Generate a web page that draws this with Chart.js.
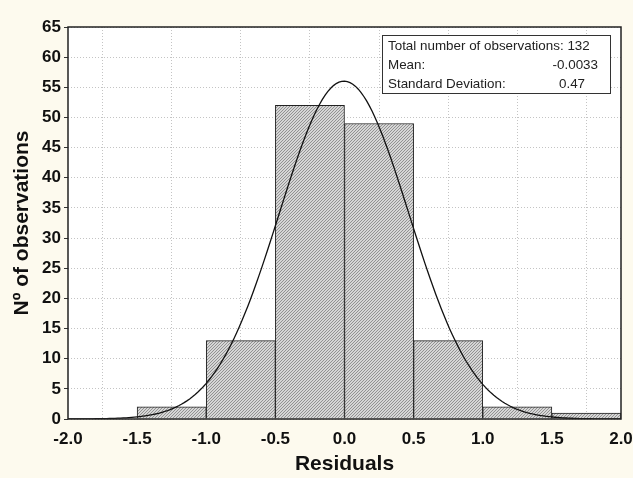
<!DOCTYPE html>
<html>
<head>
<meta charset="utf-8">
<script src="https://cdn.jsdelivr.net/npm/chart.js@4/dist/chart.umd.min.js"></script>
<style>
  html, body { margin: 0; padding: 0; background: #fdfaee; }
  #wrap { width: 633px; height: 478px; }
</style>
</head>
<body>
<div id="wrap"><canvas id="c" width="633" height="478"></canvas></div>
<script>
/* histogram of residuals + fitted normal curve */

const binStarts = [-2.0, -1.5, -1.0, -0.5, 0.0, 0.5, 1.0, 1.5];
const binWidth = 0.5;
const counts = [0, 2, 13, 52, 49, 13, 2, 1];

const totalObs = 132;
const meanVal = -0.0033;
const stdDev = 0.47;
const statLines = [
  ['Total number of observations: 132', ''],
  ['Mean:', '-0.0033'],
  ['Standard Deviation:', '0.47']
];

const yTicks = [0, 5, 10, 15, 20, 25, 30, 35, 40, 45, 50, 55, 60, 65];

// fitted normal curve, from the stats shown in the box
const curveX = [];
for (let i = 0; i <= 200; i++) curveX.push(-2 + i * 0.02);
const normalFit = curveX.map(x => ({
  x: x,
  y: totalObs * binWidth * Math.exp(-0.5 * Math.pow((x - meanVal) / stdDev, 2)) / (stdDev * Math.sqrt(2 * Math.PI))
}));

function hatch() {
  const p = document.createElement('canvas');
  p.width = 3; p.height = 3;
  const g = p.getContext('2d');
  g.fillStyle = '#d6d6d6';
  g.fillRect(0, 0, 3, 3);
  g.fillStyle = '#929292';
  // one-pixel diagonal "/"
  g.fillRect(2, 0, 1, 1);
  g.fillRect(1, 1, 1, 1);
  g.fillRect(0, 2, 1, 1);
  return g.createPattern(p, 'repeat');
}

const FONT = 'Liberation Sans, Arial, sans-serif';

const framePlugin = {
  id: 'frame',
  beforeDraw(chart) {
    const { ctx, chartArea: a } = chart;
    ctx.save();
    ctx.fillStyle = '#fdfaee';
    ctx.fillRect(0, 0, chart.width, chart.height);
    ctx.fillStyle = '#ffffff';
    ctx.fillRect(a.left, a.top, a.right - a.left, a.bottom - a.top);
    ctx.restore();
  },
  afterDraw(chart) {
    const { ctx, chartArea: a } = chart;
    ctx.save();
    ctx.strokeStyle = '#222';
    ctx.lineWidth = 1.5;
    ctx.strokeRect(a.left, a.top, a.right - a.left, a.bottom - a.top);

    // stats box
    ctx.fillStyle = '#ffffff';
    ctx.fillRect(382, 35, 228, 58);
    ctx.lineWidth = 1;
    ctx.strokeStyle = '#333';
    ctx.strokeRect(382.5, 35.5, 228, 58);
    ctx.fillStyle = '#222';
    ctx.font = '13.4px ' + FONT;
    ctx.textBaseline = 'middle';
    const ys = [46, 65, 84];
    statLines.forEach((s, i) => {
      ctx.textAlign = 'left';
      ctx.fillText(s[0], 388, ys[i]);
      if (s[1]) {
        if (i === 1) { ctx.textAlign = 'right'; ctx.fillText(s[1], 598, ys[i]); }
        else { ctx.textAlign = 'left'; ctx.fillText(s[1], 559, ys[i]); }
      }
    });
    ctx.restore();
  }
};

new Chart(document.getElementById('c'), {
  type: 'bar',
  data: {
    datasets: [
      {
        type: 'line',
        data: normalFit,
        borderColor: '#111',
        borderWidth: 1.3,
        pointRadius: 0,
        tension: 0,
        order: 0
      },
      {
        data: binStarts.map((b, i) => ({ x: b + binWidth / 2, y: counts[i] })),
        backgroundColor: hatch(),
        borderColor: '#222',
        borderWidth: 1,
        barPercentage: 1,
        categoryPercentage: 1,
        order: 1
      }
    ]
  },
  options: {
    responsive: false,
    animation: false,
    layout: { padding: { top: 27, right: 12, left: 0, bottom: 0 } },
    plugins: { legend: { display: false }, tooltip: { enabled: false } },
    scales: {
      x: {
        type: 'linear',
        min: -2, max: 2,
        offset: false,
        afterFit: s => { s.height = 59; s.paddingLeft = 0; s.paddingRight = 0; },
        ticks: {
          stepSize: 0.5,
          padding: 10,
          color: '#111',
          font: { family: FONT, size: 17, weight: 'bold' },
          callback: v => v.toFixed(1)
        },
        grid: { color: '#c4c4c4', tickLength: 0, drawTicks: false },
        border: { display: false, dash: [1, 2] },
        title: {
          display: true, text: 'Residuals', color: '#111',
          font: { family: FONT, size: 21, weight: 'bold' },
          padding: { top: 0, bottom: 1 }
        }
      },
      y: {
        min: 0, max: 65,
        afterFit: s => { s.width = 68; s.paddingTop = 0; s.paddingBottom = 0; },
        afterBuildTicks: s => { s.ticks = yTicks.map(v => ({ value: v })); },
        ticks: {
          padding: 3,
          color: '#111',
          font: { family: FONT, size: 17, weight: 'bold' }
        },
        grid: { color: '#c4c4c4', tickLength: 4, tickColor: '#333' },
        border: { display: false, dash: [1, 2] },
        title: {
          display: true, text: 'Nº of observations', color: '#111',
          font: { family: FONT, size: 21, weight: 'bold' },
          padding: { top: 10, bottom: 0 }
        }
      }
    }
  },
  plugins: [framePlugin]
});
</script>
</body>
</html>
